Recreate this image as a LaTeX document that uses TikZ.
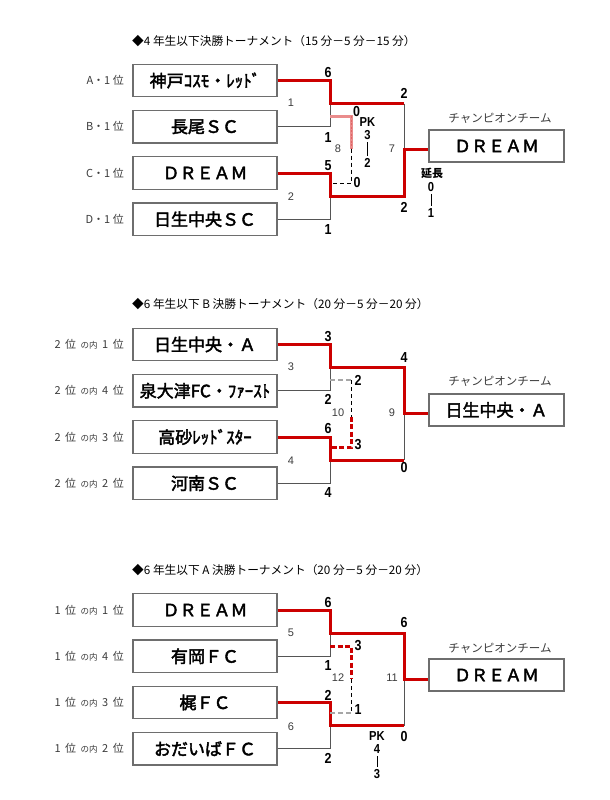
\documentclass[tikz,border=0pt]{standalone}
\usepackage{fontspec}
\newfontfamily\jp{Noto Sans CJK JP}
\newfontfamily\jpm{Noto Sans CJK JP}[FakeBold=2.4]
\newfontfamily\num{Liberation Sans}[FakeStretch=0.86]
\newfontfamily\arl{Liberation Sans}
\definecolor{rd}{RGB}{204,0,0}
\definecolor{pk}{RGB}{234,140,140}
\definecolor{ln}{RGB}{85,85,85}
\definecolor{bx}{RGB}{110,110,110}
\definecolor{txt}{RGB}{60,60,60}
\newcommand\sidelab[2]{#1\hspace{4.5pt}位\hspace{4.5pt}{\fontsize{8.5}{8.5}\selectfont の内}\hspace{4.5pt}#2\hspace{4.5pt}位}
\begin{document}
\begin{tikzpicture}[x=1pt,y=-1pt,
 team/.style={draw=bx, line width=1.3pt, minimum width=144pt, minimum height=32.5pt, inner sep=0pt, font=\jpm\fontsize{17}{17}\selectfont},
 champ/.style={team, minimum width=135pt, minimum height=32pt},
 win/.style={draw=rd, line width=3pt},
 lose/.style={draw=ln, line width=1pt},
 tdash/.style={draw=black, line width=0.9pt, dash pattern=on 4pt off 3pt},
 tgray/.style={draw=gray!70, line width=1.6pt, dash pattern=on 5pt off 3pt},
 twin/.style={draw=rd, line width=3pt, dash pattern=on 5pt off 2.5pt},
 pkline/.style={draw=pk, line width=3pt},
 pkdash/.style={draw=rd!60, line width=0.8pt, dash pattern=on 2pt off 1.5pt},
 score/.style={font=\num\bfseries\fontsize{14.5}{14.5}\selectfont, inner sep=0pt},
 pkt/.style={font=\num\bfseries\fontsize{13}{13}\selectfont, inner sep=0pt},
 mnum/.style={font=\arl\fontsize{11}{11}\selectfont, text=txt, inner sep=0pt},
 side/.style={font=\jp\fontsize{11}{11}\selectfont, text=txt, inner sep=0pt, anchor=east},
 ttl/.style={font=\jp\fontsize{11.7}{11.7}\selectfont, inner sep=0pt, anchor=west},
 clab/.style={font=\jp\fontsize{11.5}{11.5}\selectfont, text=txt, inner sep=0pt},
 ext/.style={font=\jp\bfseries\fontsize{11}{11}\selectfont, inner sep=0pt},
 bar/.style={draw=black, line width=1pt},
]
\fill[white] (0,0) rectangle (610,800);
\useasboundingbox (0,0) rectangle (610,800);

% ================= Section A =================
\begin{scope}[shift={(0,80.5)}]
\node[ttl] (attl) at (132,-39) {◆4 年生以下決勝トーナメント（15 分－5 分－15 分）};
\node[team] (a1) at (205,0) {神戸ｺｽﾓ・ﾚｯﾄﾞ};
\node[team] (a2) at (205,46.25) {長尾ＳＣ};
\node[team] (a3) at (205,92.5) {ＤＲＥＡＭ};
\node[team] (a4) at (205,138.75) {日生中央ＳＣ};
\node[clab] (acl) at (500,38) {チャンピオンチーム};
\node[champ] (ac) at (496.5,65.5) {ＤＲＥＡＭ};
\node[side] (al1) at (124,0) {A・1 位};
\node[side] (al2) at (124,46.25) {B・1 位};
\node[side] (al3) at (124,92.5) {C・1 位};
\node[side] (al4) at (124,138.75) {D・1 位};
\coordinate (aK1) at (330,0);
\coordinate (aK2) at (330,46.25);
\coordinate (aK3) at (330,92.5);
\coordinate (aK4) at (330,138.75);
\coordinate (aJ1) at (330,23);
\coordinate (aJ2) at (330,115.5);
\coordinate (aF1) at (404,23);
\coordinate (aF2) at (404,115.5);
\coordinate (aF) at (404,68.5);
\coordinate (aT1) at (330,35.5);
\coordinate (aT1r) at (351,35.5);
\coordinate (aTm) at (351,68);
\coordinate (aT2r) at (351,102.5);
\coordinate (aT2) at (330,102.5);
\draw[lose] (a2.east) -- (aK2) -- (aJ1);
\draw[lose] (a4.east) -- (aK4) -- (aJ2);
\draw[lose] (aF1) -- (aF);
\draw[win] (a1.east) -- (aK1) -- (aJ1) -- (aF1);
\draw[win] (a3.east) -- (aK3) -- (aJ2) -- (aF2) -- (aF) -- (ac.west |- aF);
\draw[pkline] (aT1) -- (aT1r) -- (aTm);
\draw[pkdash] (aT1r) -- (aTm);
\draw[tdash] (aTm) -- (aT2r) -- (aT2);
\node[score] (as1) at (328,-7.5) {6};
\node[score] (as2) at (328,57) {1};
\node[score] (as3) at (328,85.5) {5};
\node[score] (as4) at (328,149.5) {1};
\node[score] (af1) at (404,12.5) {2};
\node[score] (af2) at (404,126.5) {2};
\node[score] (at1) at (356.5,31) {0};
\node[score] (at2) at (357,102) {0};
\node[mnum] (am1) at (291,22.5) {1};
\node[mnum] (am2) at (291,116.5) {2};
\node[mnum] (am3) at (338,68.5) {8};
\node[mnum] (am4) at (392,68.5) {7};
\node[pkt] (apk) at (367.5,41.5) {PK};
\node[pkt] (apk1) at (367.5,55) {3};
\node[pkt] (apk2) at (367.5,82) {2};
\draw[bar] ([yshift=-2pt]apk1.south) -- ([yshift=2pt]apk2.north);
\node[ext] (aet) at (432,92.5) {延長};
\node[pkt] (aet1) at (431,106.5) {0};
\node[pkt] (aet2) at (431,132.5) {1};
\draw[bar] ([yshift=-2pt]aet1.south) -- ([yshift=2pt]aet2.north);
\end{scope}

% ================= Section B =================
\begin{scope}[shift={(0,344.5)}]
\node[ttl] (bttl) at (132,-40.5) {◆6 年生以下 B 決勝トーナメント（20 分－5 分－20 分）};
\node[team] (b1) at (205,0) {日生中央・Ａ};
\node[team] (b2) at (205,46.25) {泉大津FC・ﾌｧｰｽﾄ};
\node[team] (b3) at (205,92.5) {高砂ﾚｯﾄﾞｽﾀｰ};
\node[team] (b4) at (205,138.75) {河南ＳＣ};
\node[clab] (bcl) at (500,37) {チャンピオンチーム};
\node[champ] (bc) at (496.5,65.5) {日生中央・Ａ};
\node[side] (bl1) at (124,0) {\sidelab{2}{1}};
\node[side] (bl2) at (124,46.25) {\sidelab{2}{4}};
\node[side] (bl3) at (124,92.5) {\sidelab{2}{3}};
\node[side] (bl4) at (124,138.75) {\sidelab{2}{2}};
\coordinate (bK1) at (330,0);
\coordinate (bK2) at (330,46.25);
\coordinate (bK3) at (330,92.5);
\coordinate (bK4) at (330,138.75);
\coordinate (bJ1) at (330,23);
\coordinate (bJ2) at (330,115.5);
\coordinate (bF1) at (404,23);
\coordinate (bF2) at (404,115.5);
\coordinate (bF) at (404,68.5);
\coordinate (bT1) at (330,35.5);
\coordinate (bT1r) at (351,35.5);
\coordinate (bTm) at (351,72);
\coordinate (bT2r) at (351,102.5);
\coordinate (bT2) at (330,102.5);
\draw[lose] (b2.east) -- (bK2) -- (bJ1);
\draw[lose] (b4.east) -- (bK4) -- (bJ2);
\draw[lose] (bF2) -- (bF);
\draw[win] (b3.east) -- (bK3) -- (bJ2) -- (bF2);
\draw[win] (b1.east) -- (bK1) -- (bJ1) -- (bF1) -- (bF) -- (bc.west |- bF);
\draw[tgray] (bT1) -- (bT1r);
\draw[tdash] (bT1r) -- (bTm);
\draw[twin] (bTm) -- (bT2r) -- (bT2);
\node[score] (bs1) at (328,-7.5) {3};
\node[score] (bs2) at (328,55) {2};
\node[score] (bs3) at (328,84.5) {6};
\node[score] (bs4) at (328,148.5) {4};
\node[score] (bf1) at (404,13.5) {4};
\node[score] (bf2) at (404,123) {0};
\node[score] (bt1) at (358,35.5) {2};
\node[score] (bt2) at (358,100) {3};
\node[mnum] (bm1) at (291,22.5) {3};
\node[mnum] (bm2) at (291,116.5) {4};
\node[mnum] (bm3) at (338,68.5) {10};
\node[mnum] (bm4) at (392,68.5) {9};
\end{scope}

% ================= Section C =================
\begin{scope}[shift={(0,610)}]
\node[ttl] (cttl) at (132,-40) {◆6 年生以下 A 決勝トーナメント（20 分－5 分－20 分）};
\node[team] (c1) at (205,0) {ＤＲＥＡＭ};
\node[team] (c2) at (205,46.25) {有岡ＦＣ};
\node[team] (c3) at (205,92.5) {梶ＦＣ};
\node[team] (c4) at (205,138.75) {おだいばＦＣ};
\node[clab] (ccl) at (500,38) {チャンピオンチーム};
\node[champ] (cc) at (496.5,65) {ＤＲＥＡＭ};
\node[side] (cl1) at (124,0) {\sidelab{1}{1}};
\node[side] (cl2) at (124,46.25) {\sidelab{1}{4}};
\node[side] (cl3) at (124,92.5) {\sidelab{1}{3}};
\node[side] (cl4) at (124,138.75) {\sidelab{1}{2}};
\coordinate (cK1) at (330,0);
\coordinate (cK2) at (330,46.25);
\coordinate (cK3) at (330,92.5);
\coordinate (cK4) at (330,138.75);
\coordinate (cJ1) at (330,23);
\coordinate (cJ2) at (330,115.5);
\coordinate (cF1) at (404,23);
\coordinate (cF2) at (404,115.5);
\coordinate (cF) at (404,69);
\coordinate (cT1) at (330,36);
\coordinate (cT1r) at (351,36);
\coordinate (cTm) at (351,69);
\coordinate (cT2r) at (351,103);
\coordinate (cT2) at (330,103);
\draw[lose] (c2.east) -- (cK2) -- (cJ1);
\draw[lose] (c4.east) -- (cK4) -- (cJ2);
\draw[lose] (cF2) -- (cF);
\draw[win] (c3.east) -- (cK3) -- (cJ2) -- (cF2);
\draw[win] (c1.east) -- (cK1) -- (cJ1) -- (cF1) -- (cF) -- (cc.west |- cF);
\draw[twin] (cT1) -- (cT1r) -- (cTm);
\draw[tdash] (cTm) -- (cT2r);
\draw[tgray] (cT2r) -- (cT2);
\node[score] (cs1) at (328,-7) {6};
\node[score] (cs2) at (328,56) {1};
\node[score] (cs3) at (328,85) {2};
\node[score] (cs4) at (328,148) {2};
\node[score] (cf1) at (404,13) {6};
\node[score] (cf2) at (404,126) {0};
\node[score] (ct1) at (358,36) {3};
\node[score] (ct2) at (358,100) {1};
\node[mnum] (cm1) at (291,23) {5};
\node[mnum] (cm2) at (291,117) {6};
\node[mnum] (cm3) at (338,68) {12};
\node[mnum] (cm4) at (392,68) {11};
\node[pkt] (cpk) at (377,126) {PK};
\node[pkt] (cpk1) at (377,139.5) {4};
\node[pkt] (cpk2) at (377,164) {3};
\draw[bar] ([yshift=-2pt]cpk1.south) -- ([yshift=2pt]cpk2.north);
\end{scope}
\end{tikzpicture}
\end{document}
